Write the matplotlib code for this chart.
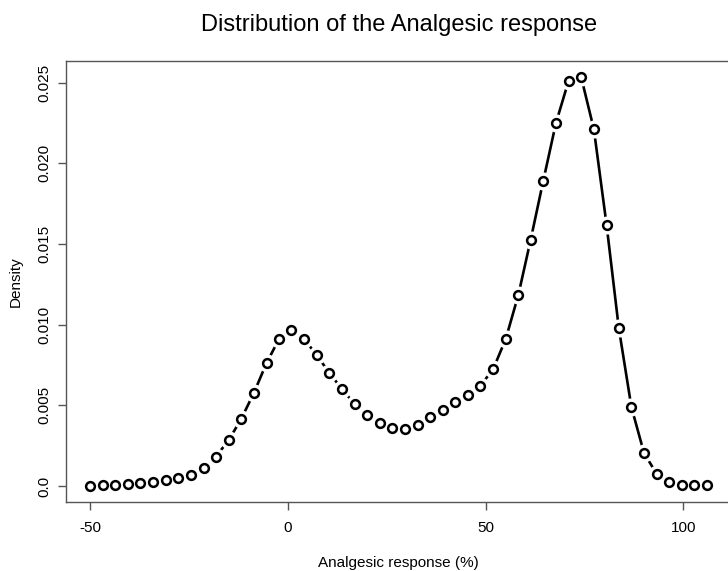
import numpy as np
import matplotlib
matplotlib.use("Agg")
import matplotlib.pyplot as plt

plt.rcParams['font.family'] = ['Liberation Sans', 'DejaVu Sans']

# density estimate (50 evenly spaced grid points)
response = [-50.0, -46.8, -43.6, -40.4, -37.3, -34.1, -30.9, -27.7, -24.5, -21.3,
            -18.2, -15.0, -11.8, -8.6, -5.4, -2.2, 0.9, 4.1, 7.3, 10.5,
            13.7, 16.9, 20.0, 23.2, 26.4, 29.6, 32.8, 36.0, 39.2, 42.3,
            45.5, 48.7, 51.9, 55.1, 58.3, 61.4, 64.6, 67.8, 71.0, 74.2,
            77.4, 80.6, 83.7, 86.9, 90.1, 93.3, 96.5, 99.7, 102.8, 106.0]
density = [0.00003, 0.00004, 0.00005, 0.00011, 0.00017, 0.00026, 0.00038, 0.00048, 0.00071, 0.00110,
           0.00183, 0.00283, 0.00416, 0.00577, 0.00762, 0.00913, 0.00967, 0.00913, 0.00810, 0.00702,
           0.00599, 0.00509, 0.00442, 0.00391, 0.00358, 0.00354, 0.00381, 0.00426, 0.00473, 0.00521,
           0.00564, 0.00622, 0.00723, 0.00911, 0.01185, 0.01525, 0.01892, 0.02249, 0.02511, 0.02532,
           0.02210, 0.01620, 0.00979, 0.00488, 0.00203, 0.00075, 0.00026, 0.00008, 0.00006, 0.00006]

xticks = [-50, 0, 50, 100]
yticks = [0.0, 0.005, 0.010, 0.015, 0.020, 0.025]
ylabels = ["0.0", "0.005", "0.010", "0.015", "0.020", "0.025"]

fig = plt.figure(figsize=(7.28, 5.71), dpi=100)
# plot region runs slightly past the right edge, as in the reference
ax = fig.add_axes([0.090, 0.121, 0.915, 0.772])

# type="b": line with gaps round the points
ax.plot(response, density, color='black', lw=1.9, zorder=2)
ax.plot(response, density, ls='none', marker='o', ms=12, mfc='white', mec='white', zorder=3)
ax.plot(response, density, ls='none', marker='o', ms=6.3, mfc='white', mec='black', mew=1.8, zorder=4)

# R style 4% padding
xr = max(response) - min(response)
yr = max(density) - min(density)
ax.set_xlim(min(response) - 0.04 * xr, max(response) + 0.04 * xr)
ax.set_ylim(min(density) - 0.04 * yr, max(density) + 0.04 * yr)

ax.set_xticks(xticks)
ax.set_xticklabels([str(t) for t in xticks])
ax.set_yticks(yticks)
ax.set_yticklabels(ylabels, rotation=90, va='center')

edge = '#555555'
for s in ax.spines.values():
    s.set_color(edge)
    s.set_linewidth(1.0)
ax.tick_params(direction='out', length=6, width=1.0, color=edge, labelsize=11)
ax.tick_params(axis='x', pad=8)
ax.tick_params(axis='y', pad=4)

ax.set_xlabel("Analgesic response (%)", fontsize=11, labelpad=15)
ax.set_ylabel("Density", fontsize=11, labelpad=11)
ax.set_title("Distribution of the Analgesic response", fontsize=17, pad=22)

fig.savefig("out.png", dpi=100)
